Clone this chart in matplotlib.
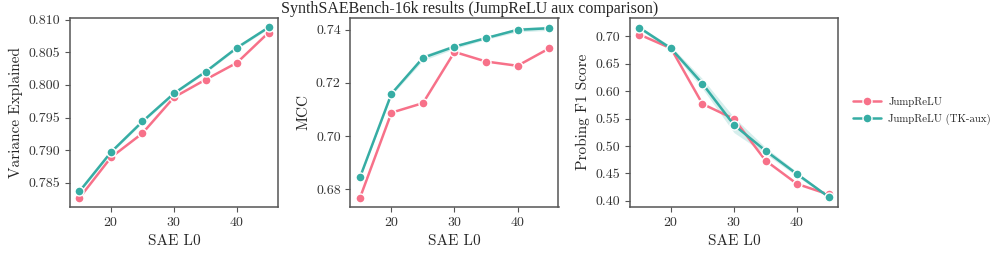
import numpy as np
import matplotlib
matplotlib.use("Agg")
import matplotlib.pyplot as plt
import seaborn as sns

l0 = [15, 20, 25, 30, 35, 40, 45]
series_names = ["JumpReLU", "JumpReLU (TK-aux)"]

var_jr = [0.7827, 0.7889, 0.7926, 0.7981, 0.8008, 0.8034, 0.8080]
var_tk = [0.7837, 0.7897, 0.7944, 0.7987, 0.8020, 0.8057, 0.8088]
var_tk_err = [0.0002, 0.0002, 0.0002, 0.0002, 0.0002, 0.0002, 0.0002]

mcc_jr = [0.6768, 0.7088, 0.7124, 0.7316, 0.7280, 0.7264, 0.7329]
mcc_tk = [0.6845, 0.7159, 0.7294, 0.7336, 0.7368, 0.7399, 0.7405]
mcc_tk_err = [0.0003, 0.0006, 0.0010, 0.0008, 0.0005, 0.0008, 0.0008]

f1_jr = [0.7030, 0.6778, 0.5766, 0.5494, 0.4735, 0.4309, 0.4117]
f1_tk = [0.7154, 0.6778, 0.6135, 0.5383, 0.4914, 0.4488, 0.4074]
f1_tk_err = [0.003, 0.004, 0.009, 0.014, 0.006, 0.004, 0.002]

ylabels = ["Variance Explained", "MCC", "Probing F1 Score"]
panels = [(var_jr, var_tk, var_tk_err), (mcc_jr, mcc_tk, mcc_tk_err), (f1_jr, f1_tk, f1_tk_err)]

sns.set_style("ticks")
plt.rcParams["font.family"] = ["cmr10", "DejaVu Serif"]
plt.rcParams["axes.formatter.use_mathtext"] = True

colors = sns.color_palette("husl", 2)
spine_col = "#555555"

fig = plt.figure(figsize=(9.95, 2.54), dpi=100)
lefts = [70, 350.5, 630]
axes = [fig.add_axes([l / 995, 1 - 206.5 / 254, 208 / 995, 189 / 254]) for l in lefts]

for ax, (jr, tk, err), ylab in zip(axes, panels, ylabels):
    x = np.array(l0)
    tk = np.array(tk)
    err = np.array(err)
    ax.fill_between(x, tk - err, tk + err, color=colors[1], alpha=0.2, lw=0)
    ax.plot(x, jr, color=colors[0], lw=1.8, marker="o", ms=6.5,
            mec="white", mew=1.0, label=series_names[0])
    ax.plot(x, tk, color=colors[1], lw=1.8, marker="o", ms=6.5,
            mec="white", mew=1.0, label=series_names[1])
    ax.set_xlabel("SAE L0", fontsize=11)
    ax.set_ylabel(ylab, fontsize=11)
    ax.set_xticks([20, 30, 40])
    ax.tick_params(labelsize=10, color=spine_col, labelcolor="#333333")
    for s in ax.spines.values():
        s.set_color(spine_col)
        s.set_linewidth(1.1)

axes[0].set_yticks([0.785, 0.790, 0.795, 0.800, 0.805, 0.810])
axes[0].yaxis.set_major_formatter(matplotlib.ticker.FormatStrFormatter("%.3f"))
axes[1].set_yticks([0.68, 0.70, 0.72, 0.74])
axes[1].yaxis.set_major_formatter(matplotlib.ticker.FormatStrFormatter("%.2f"))
axes[2].set_yticks([0.40, 0.45, 0.50, 0.55, 0.60, 0.65, 0.70])
axes[2].yaxis.set_major_formatter(matplotlib.ticker.FormatStrFormatter("%.2f"))

handles, labels = axes[2].get_legend_handles_labels()
fig.legend(handles, labels, loc="center left", bbox_to_anchor=(843 / 995, 1 - 111 / 254),
           frameon=False, fontsize=7.8, handlelength=2.6, handletextpad=0.7,
           labelspacing=0.6)

fig.suptitle("SynthSAEBench-16k results (JumpReLU aux comparison)", x=470 / 995, y=0.995,
             fontsize=11.5, family=["Liberation Serif"])

fig.savefig("out.png", dpi=100)
